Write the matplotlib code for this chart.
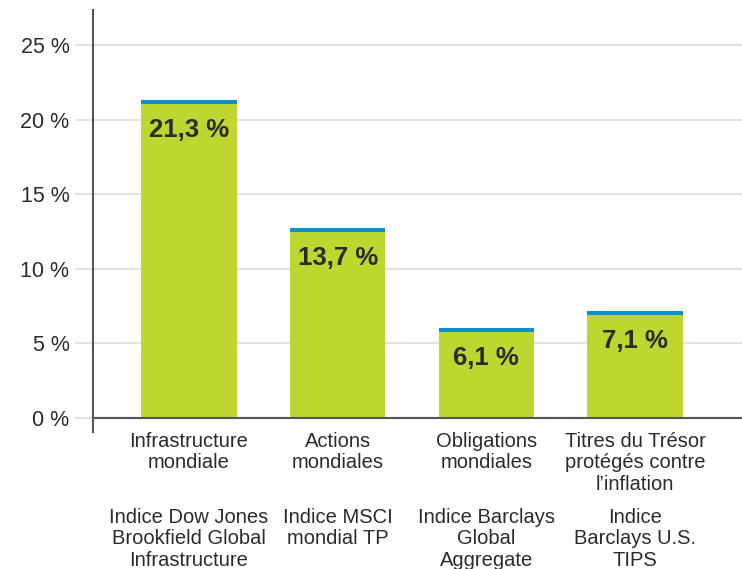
import matplotlib
matplotlib.use("Agg")
import matplotlib.pyplot as plt
import numpy as np

plt.rcParams['font.family'] = ['Liberation Sans', 'DejaVu Sans']

categories = ["Infrastructure\nmondiale", "Actions\nmondiales",
              "Obligations\nmondiales", "Titres du Trésor\nprotégés contre\nl\u2019inflation"]
indices = ["Indice Dow Jones\nBrookfield Global\nInfrastructure", "Indice MSCI\nmondial TP",
           "Indice Barclays\nGlobal\nAggregate", "Indice\nBarclays U.S.\nTIPS"]
# bar heights as drawn in the picture (the 2nd bar sits lower than its label)
values = [21.3, 12.75, 6.05, 7.15]
labels = ["21,3 %", "13,7 %", "6,1 %", "7,1 %"]
yticks = [0, 5, 10, 15, 20, 25]

green = "#bdd630"
blue = "#0a8fd0"
text_col = "#2b2b2b"

fig = plt.figure(figsize=(7.42, 5.69), dpi=100)
ax = fig.add_axes([93 / 742, 1 - 432 / 569, 1 - 93 / 742, (432 - 10) / 569])

x = np.arange(len(values))
cap = 0.28
ax.bar(x, values, width=0.64, color=green, zorder=3)
ax.bar(x, [cap] * len(values), bottom=np.array(values) - cap, width=0.64, color=blue, zorder=4)

for xi, v, lab in zip(x, values, labels):
    ax.text(xi, v - 2.0, lab, ha='center', va='center', fontsize=18.5,
            fontweight='bold', color=text_col, zorder=5)

ax.set_xlim(-0.646, 3.72)
ax.set_ylim(-0.94, 27.35)
ax.set_yticks(yticks)
ax.set_yticklabels([f"{t} %" for t in yticks], fontsize=15.5, color=text_col)
ax.tick_params(axis='y', length=13, width=1.5, color="#e2e2e2", pad=4)
ax.grid(axis='y', color="#e2e2e2", linewidth=1.5, zorder=0)
ax.set_xticks([])

for s in ['top', 'right', 'bottom']:
    ax.spines[s].set_visible(False)
ax.spines['left'].set_color("#555555")
ax.spines['left'].set_linewidth(1.5)
ax.axhline(0, color="#555555", linewidth=1.5, zorder=6)

for xi, c, ind in zip(x, categories, indices):
    ax.text(xi, -0.95, c, ha='center', va='top', fontsize=14.5, color=text_col,
            linespacing=1.15, clip_on=False)
    ax.text(xi, -6.05, ind, ha='center', va='top', fontsize=14.5, color=text_col,
            linespacing=1.15, clip_on=False)

fig.savefig("out.png", dpi=100)
